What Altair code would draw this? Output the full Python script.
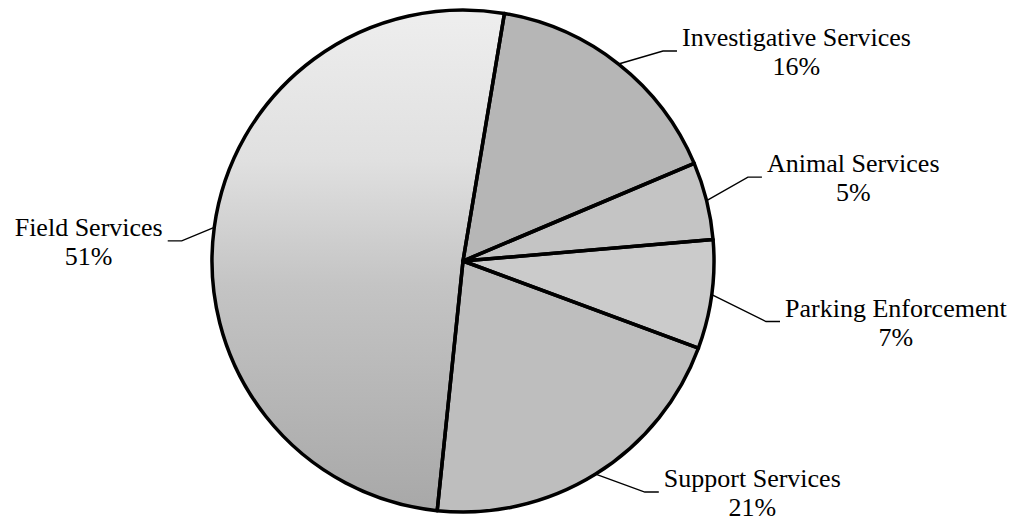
import math
import altair as alt
import pandas as pd

# ---------------- data ----------------
categories = ["Investigative Services", "Animal Services", "Parking Enforcement",
              "Support Services", "Field Services"]
percents = [16, 5, 7, 21, 51]
pct_labels = ["16%", "5%", "7%", "21%", "51%"]

# ---------------- layout / style ----------------
W, H, M = 1007, 514, 8            # plot size and page margin
CX, CY, R = 463, 261, 251         # pie centre (page px) and radius
START_DEG = 9.5                   # first slice boundary, clockwise from 12 o'clock
# elbow of each leader line, polar (deg clockwise from 12 o'clock, radius px)
label_polar = [(43.6, 290), (73.6, 297), (101.3, 309), (141.8, 294), (274.1, 282)]
TAIL, GAP, LIFT = 14, 5, 5
FONT, FS, LINE_H = "Liberation Serif", 26, 29
slice_greys = ["#b6b6b6", "#c4c4c4", "#cbcbcb", "#bebebe", "#c8c8c8"]

# Times-compatible advance widths (per 1000 em) for centring the % line
TW = {" ": 250, "A": 722, "E": 611, "F": 556, "I": 333, "P": 556, "S": 556,
      "a": 444, "c": 444, "d": 500, "e": 444, "f": 333, "g": 500, "i": 278,
      "k": 500, "l": 278, "m": 778, "n": 500, "o": 500, "p": 500, "r": 333,
      "s": 389, "t": 278, "u": 500, "v": 500}


def text_w(s):
    return sum(TW.get(ch, 500) for ch in s) * FS / 1000.0


pie_df = pd.DataFrame({"category": categories, "value": percents,
                       "idx": list(range(len(categories)))})

total = float(sum(percents))
lead_rows, lab_rows = [], []
cum = 0.0
for i, (cat, v, lab) in enumerate(zip(categories, percents, pct_labels)):
    mid = math.radians(START_DEG + (cum + v / 2.0) / total * 360.0)
    cum += v
    sx, sy = CX + R * math.sin(mid), CY - R * math.cos(mid)
    a, r = label_polar[i]
    a = math.radians(a)
    ex, ey = CX + r * math.sin(a), CY - r * math.cos(a)
    side = 1 if math.sin(a) > 0 else -1
    tx = ex + side * TAIL
    for k, (px, py) in enumerate([(sx, sy), (ex, ey), (tx, ey)]):
        lead_rows.append({"category": cat, "k": k, "x": px, "y": py})
    w = text_w(cat)
    cxl = tx + side * GAP + side * w / 2.0
    base = ey - LIFT
    lab_rows.append({"category": cat, "pct": lab, "x": cxl, "y": base,
                     "y2": base + LINE_H})

lead_df = pd.DataFrame(lead_rows)
lab_df = pd.DataFrame(lab_rows)

xs = alt.Scale(domain=[M, M + W], zero=False, nice=False)
ys = alt.Scale(domain=[M, M + H], zero=False, nice=False, reverse=True)
t0 = math.radians(START_DEG)
theta_scale = alt.Scale(domain=[0, total], range=[t0, t0 + 2 * math.pi])

grad = alt.Gradient(
    gradient="linear",
    stops=[alt.GradientStop(color="#eeeeee", offset=0),
           alt.GradientStop(color="#e0e0e0", offset=0.3),
           alt.GradientStop(color="#c4c4c4", offset=0.55),
           alt.GradientStop(color="#a8a8a8", offset=1)],
    x1=0, x2=0, y1=0, y2=1)

base = alt.Chart(pie_df).transform_window(
    cum="sum(value)", sort=[alt.SortField("idx")],
    frame=[None, 0]).transform_calculate(start="datum.cum - datum.value")

centre = dict(x=alt.value(CX - M), y=alt.value(CY - M))

fills = base.mark_arc(outerRadius=R, stroke=None).encode(
    theta=alt.Theta("start:Q", scale=theta_scale),
    theta2="cum:Q",
    color=alt.Color("category:N", legend=None,
                    scale=alt.Scale(domain=categories, range=slice_greys)),
    **centre)

field_fill = base.transform_filter(
    alt.datum.category == "Field Services").mark_arc(
    outerRadius=R, fill=grad).encode(
    theta=alt.Theta("start:Q", scale=theta_scale), theta2="cum:Q", **centre)

strokes = base.mark_arc(
    outerRadius=R, fill="#ffffff", fillOpacity=0, stroke="#000000",
    strokeWidth=3.5, strokeJoin="round").encode(
    theta=alt.Theta("start:Q", scale=theta_scale), theta2="cum:Q", **centre)

leaders = alt.Chart(lead_df).mark_line(color="#000000", strokeWidth=1.4).encode(
    x=alt.X("x:Q", scale=xs, axis=None),
    y=alt.Y("y:Q", scale=ys, axis=None),
    detail="category:N", order="k:Q")

names = alt.Chart(lab_df).mark_text(
    font=FONT, fontSize=FS, color="#000000", align="center",
    baseline="alphabetic").encode(
    x=alt.X("x:Q", scale=xs, axis=None),
    y=alt.Y("y:Q", scale=ys, axis=None),
    text="category:N")

pcts = alt.Chart(lab_df).mark_text(
    font=FONT, fontSize=FS, color="#000000", align="center",
    baseline="alphabetic").encode(
    x=alt.X("x:Q", scale=xs, axis=None),
    y=alt.Y("y2:Q", scale=ys, axis=None),
    text="pct:N")

chart = alt.layer(fills, field_fill, strokes, leaders, names, pcts).properties(
    width=W, height=H, padding=0,
    autosize=alt.AutoSizeParams(type="none"),
    background="#ffffff").configure_view(stroke=None)

chart.save("out.html", embed_options={"renderer": "svg", "actions": False})
